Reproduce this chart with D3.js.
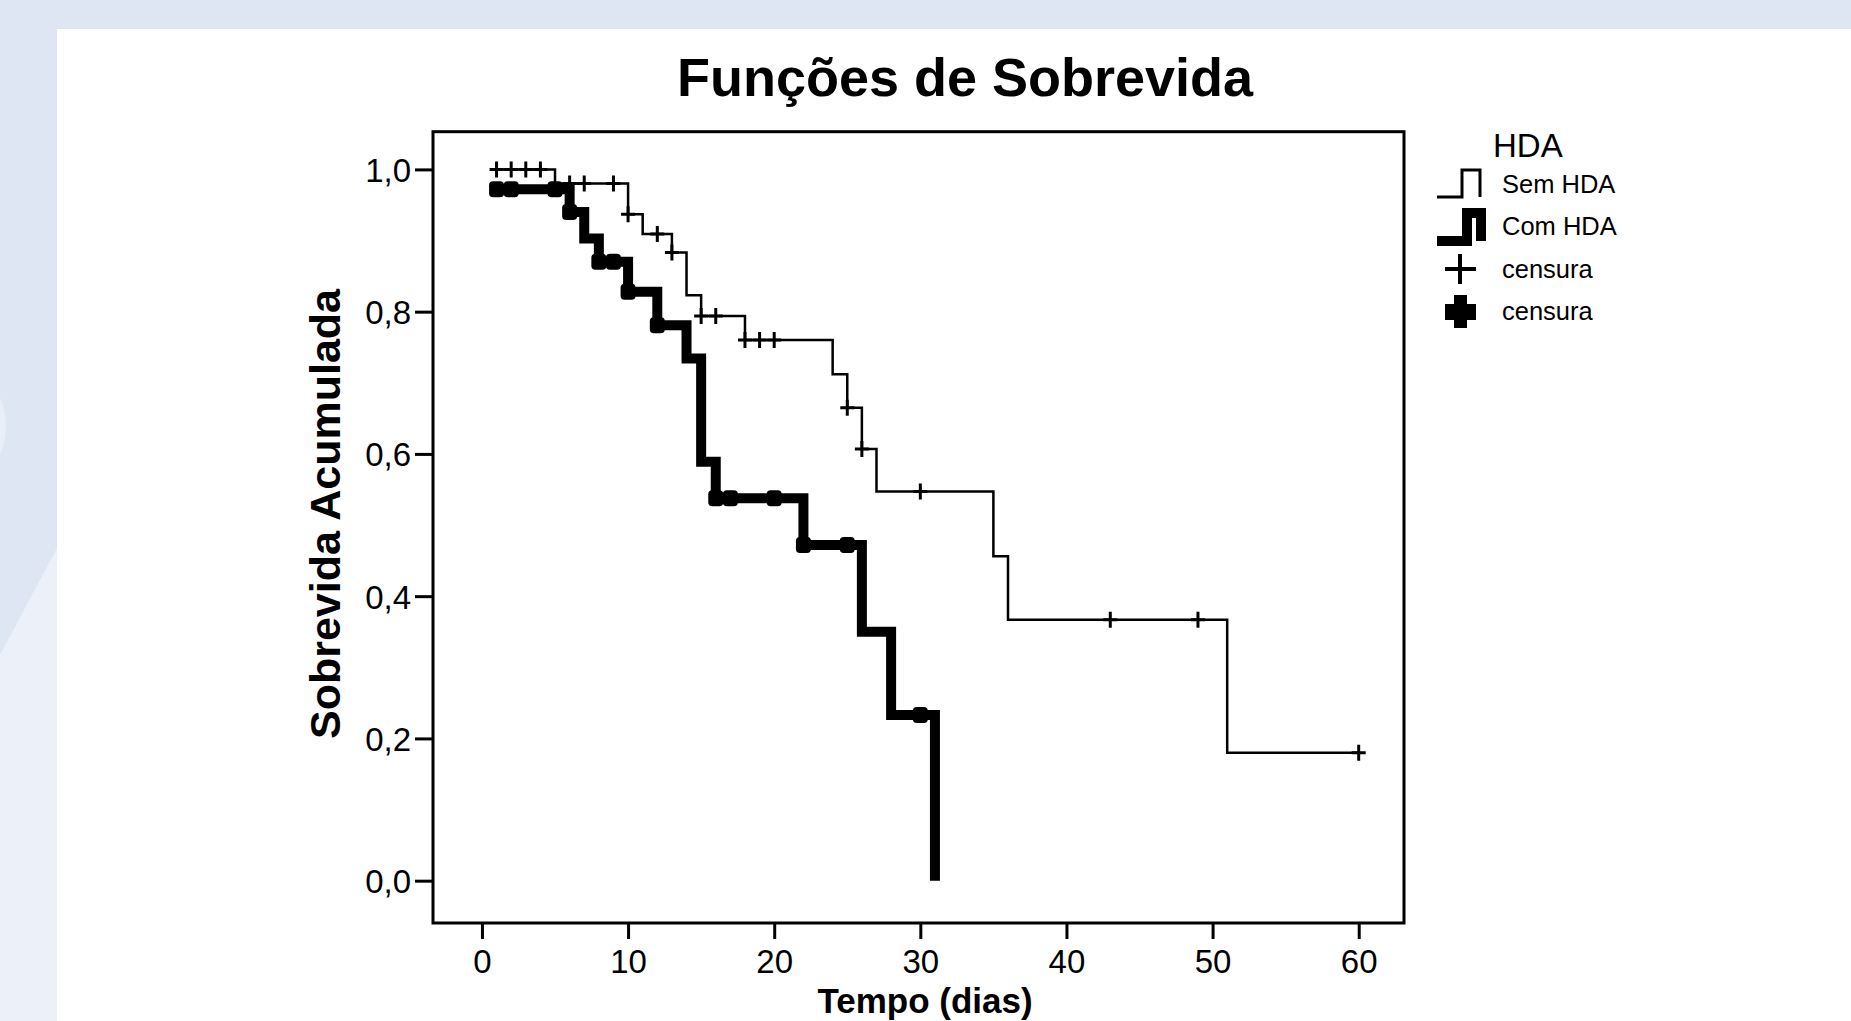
<!DOCTYPE html>
<html>
<head>
<meta charset="utf-8">
<script src="https://cdn.jsdelivr.net/npm/d3@7"></script>
<style>
  html, body { margin: 0; padding: 0; background: #fff; }
  svg { display: block; }
  text { font-family: 'Liberation Sans', Arial, sans-serif; fill: #000; }
</style>
</head>
<body>
<script>
// survival steps: [day, cumulative survival]
const semSteps = [
  [1, 1.0], [5, 0.980], [10, 0.937], [11, 0.909], [13, 0.883], [14, 0.823],
  [15, 0.794], [18, 0.760], [24, 0.712], [25, 0.665], [26, 0.607], [27, 0.547],
  [35, 0.456], [36, 0.367], [51, 0.180], [60, 0.180]
];
const comSteps = [
  [1, 0.972], [6, 0.940], [7, 0.903], [8, 0.870], [10, 0.828], [12, 0.781],
  [14, 0.734], [15, 0.589], [16, 0.5375], [22, 0.472], [26, 0.350], [28, 0.233],
  [31, 0.0]
];

// censored days
const semCensored = [1, 2, 3, 4, 6, 7, 9, 10, 12, 13, 15, 16, 18, 19, 20, 25, 26, 30, 43, 49, 60];
const comCensored = [1, 2, 5, 6, 8, 9, 10, 12, 16, 17, 20, 22, 25, 30];

// ticks and labels
const xTicks = [0, 10, 20, 30, 40, 50, 60];
const yTicks = [0, 0.2, 0.4, 0.6, 0.8, 1.0];

const title  = 'Funções de Sobrevida';
const xTitle = 'Tempo (dias)';
const yTitle = 'Sobrevida Acumulada';
const legendTitle  = 'HDA';
const legendLabels = ['Sem HDA', 'Com HDA', 'censura', 'censura'];

const width  = 1851;
const height = 1021;

const frame = { left: 433, right: 1404, top: 131.7, bottom: 923 };

const svg = d3.select('body')
  .append('svg')
    .attr('width',  width)
    .attr('height', height);

// page background
svg.append('rect')
  .attr('width', width).attr('height', height)
  .attr('fill', '#dfe6f3');
svg.append('path')
  .attr('d', 'M0,655 L57,548 L57,1021 L0,1021 Z')
  .attr('fill', '#ecf0f8');
svg.append('circle')
  .attr('cx', -62).attr('cy', 426).attr('r', 68)
  .attr('fill', '#e9eef7');
svg.append('rect')
  .attr('x', 57).attr('y', 29)
  .attr('width', width - 57).attr('height', height - 29)
  .attr('fill', '#fff');

// scales
const x = d3.scaleLinear().domain([-3.35, 63.1]).range([frame.left, frame.right]);
const y = d3.scaleLinear().domain([-0.0595, 1.053]).range([frame.bottom, frame.top]);

const comma = (v) => d3.format('.1f')(v).replace('.', ',');

// axes
const xAxis = svg.append('g')
  .attr('transform', `translate(0,${frame.bottom})`)
  .call(d3.axisBottom(x).tickValues(xTicks).tickSize(16).tickSizeOuter(0).tickPadding(9));

const yAxis = svg.append('g')
  .attr('transform', `translate(${frame.left},0)`)
  .call(d3.axisLeft(y).tickValues(yTicks).tickFormat(comma).tickSize(18).tickSizeOuter(0).tickPadding(4));

[xAxis, yAxis].forEach((g) => {
  g.select('.domain').remove();
  g.selectAll('line').attr('stroke', '#000').attr('stroke-width', 3);
  g.selectAll('text')
    .attr('fill', '#000')
    .style('font-family', "'Liberation Sans', Arial, sans-serif")
    .style('font-size', '33px');
});
xAxis.selectAll('text').attr('dy', '0.75em');
yAxis.selectAll('text').attr('dy', '0.36em');

// plot frame
svg.append('rect')
  .attr('x', frame.left).attr('y', frame.top)
  .attr('width', frame.right - frame.left).attr('height', frame.bottom - frame.top)
  .attr('fill', 'none')
  .attr('stroke', '#000')
  .attr('stroke-width', 3);

// step curves
const step = d3.line()
  .x((d) => x(d[0]))
  .y((d) => y(d[1]))
  .curve(d3.curveStepAfter);

svg.append('path')
  .attr('d', step(semSteps))
  .attr('fill', 'none')
  .attr('stroke', '#000')
  .attr('stroke-width', 2.5);

svg.append('path')
  .attr('d', step(comSteps))
  .attr('fill', 'none')
  .attr('stroke', '#000')
  .attr('stroke-width', 10)
  .attr('stroke-linejoin', 'miter');

// survival at a given day
const survivalAt = (steps, day) => {
  let v = steps[0][1];
  steps.forEach(([t, s]) => { if (t <= day) v = s; });
  return v;
};

// censor marks
svg.append('g')
  .selectAll('path')
  .data(semCensored)
  .join('path')
    .attr('d', (d) => {
      const cx = x(d), cy = y(survivalAt(semSteps, d));
      return `M${cx - 7},${cy}H${cx + 7}M${cx},${cy - 8}V${cy + 8}`;
    })
    .attr('stroke', '#000')
    .attr('stroke-width', 3);

svg.append('g')
  .selectAll('rect')
  .data(comCensored)
  .join('rect')
    .attr('x', (d) => x(d) - 7.5)
    .attr('y', (d) => y(survivalAt(comSteps, d)) - 8)
    .attr('width', 15)
    .attr('height', 16)
    .attr('rx', 4)
    .attr('fill', '#000');

// titles
svg.append('text')
  .attr('x', 965).attr('y', 96)
  .attr('text-anchor', 'middle')
  .style('font-size', '54px')
  .style('font-weight', 'bold')
  .text(title);

svg.append('text')
  .attr('x', 925).attr('y', 1013)
  .attr('text-anchor', 'middle')
  .style('font-size', '35px')
  .style('font-weight', 'bold')
  .text(xTitle);

svg.append('text')
  .attr('transform', 'translate(340,514) rotate(-90)')
  .attr('text-anchor', 'middle')
  .style('font-size', '43px')
  .style('font-weight', 'bold')
  .text(yTitle);

// legend
const legend = svg.append('g');

legend.append('text')
  .attr('x', 1493).attr('y', 157)
  .style('font-size', '33px')
  .text(legendTitle);

legend.append('path')
  .attr('d', 'M1437,197 H1462 V170 H1480 V197')
  .attr('fill', 'none')
  .attr('stroke', '#000')
  .attr('stroke-width', 3);

legend.append('path')
  .attr('d', 'M1437,241 H1467 V213 H1481 V241')
  .attr('fill', 'none')
  .attr('stroke', '#000')
  .attr('stroke-width', 10);

legend.append('path')
  .attr('d', 'M1445,269 H1476 M1460,254 V284')
  .attr('stroke', '#000')
  .attr('stroke-width', 4);

legend.append('path')
  .attr('d', 'M1454,295 H1467 V304 H1476 V320 H1467 V328 H1454 V320 H1445 V304 H1454 Z')
  .attr('fill', '#000');

legend.selectAll('text.item')
  .data(legendLabels)
  .join('text')
    .attr('class', 'item')
    .attr('x', 1502)
    .attr('y', (d, i) => [193, 235, 278, 320][i])
    .style('font-size', '25.5px')
    .text((d) => d);
</script>
</body>
</html>
